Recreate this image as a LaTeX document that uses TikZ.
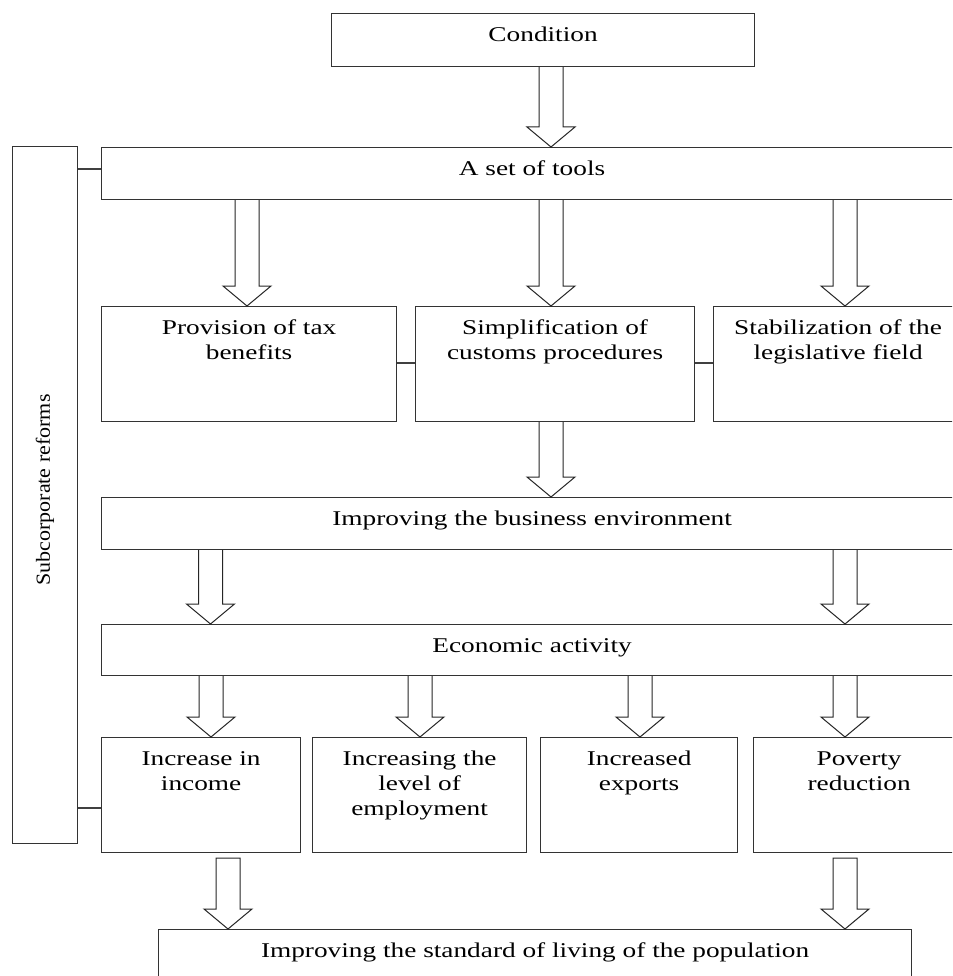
\documentclass[tikz,border=0pt]{standalone}
\usepackage{fontspec}
\setmainfont{Liberation Serif}[FakeStretch=1.3]
\newfontfamily\vertfont{Liberation Serif}[FakeStretch=1.1]
\usetikzlibrary{calc}
\newcommand\bxt[3]{\parbox[t][#2pt][t]{#1pt}{\centering\rule{0pt}{28pt}#3}}
% block arrow, open at the top (starts on the source box border)
\newcommand\barr[3]{%
  \draw[barrow] let \p1=(#2.south), \p2=(#3.north) in
    ({#1pt-12pt},\y1) -- ({#1pt-12pt},{\y2+20pt}) -- ({#1pt-24pt},{\y2+20pt}) --
    (#1pt,\y2) -- ({#1pt+24pt},{\y2+20pt}) -- ({#1pt+12pt},{\y2+20pt}) -- ({#1pt+12pt},\y1);}
% block arrow, closed, starting a few points below the source box
\newcommand\barrc[4]{%
  \draw[barrow] let \p1=(#2.south), \p2=(#3.north) in
    ({#1pt-12pt},{\y1-#4pt}) -- ({#1pt-12pt},{\y2+20pt}) -- ({#1pt-24pt},{\y2+20pt}) --
    (#1pt,\y2) -- ({#1pt+24pt},{\y2+20pt}) -- ({#1pt+12pt},{\y2+20pt}) -- ({#1pt+12pt},{\y1-#4pt}) -- cycle;}
\begin{document}
\begin{tikzpicture}[x=1pt,y=-1pt,
  box/.style={draw=black!80, line width=1.2pt, inner sep=0pt, anchor=north west,
              font=\fontsize{21}{25}\selectfont},
  barrow/.style={draw=black!85, line width=1pt, line join=miter},
  link/.style={draw=black!75, line width=1.2pt}]
\useasboundingbox[fill=white] (0,0) rectangle (952,976);
\clip (0,0) rectangle (952,976);

% boxes
\node[box] (cond) at (331,13) {\bxt{423}{53}{Condition}};
\node[box] (tools) at (101,147) {\bxt{861}{52}{A set of tools}};
\node[box, minimum width=65, minimum height=697] (sub) at (12,146) {};
\node[rotate=90, font=\vertfont\fontsize{20}{24}\selectfont] (subtxt) at (45,490) {Subcorporate reforms};

\node[box] (tax) at (101,306) {\bxt{295}{115}{Provision of tax\\benefits}};
\node[box] (customs) at (415,306) {\bxt{279}{115}{Simplification of\\customs procedures}};
\node[box] (legis) at (713,306) {\bxt{249}{115}{Stabilization of the\\legislative field}};

\node[box] (biz) at (101,497) {\bxt{861}{52}{Improving the business environment}};
\node[box] (econ) at (101,624) {\bxt{861}{51}{Economic activity}};

\node[box] (income) at (101,737) {\bxt{199}{115}{Increase in\\income}};
\node[box] (employ) at (312,737) {\bxt{214}{115}{Increasing the\\level of\\employment}};
\node[box] (exports) at (540,737) {\bxt{197}{115}{Increased\\exports}};
\node[box] (poverty) at (753,737) {\bxt{211}{115}{Poverty\\reduction}};

\node[box] (living) at (158,929) {\bxt{753}{60}{Improving the standard of living of the population}};

% plain connectors
\draw[link] (sub.east |- 0,169) -- (tools.west |- 0,169);
\draw[link] (sub.east |- 0,808) -- (income.west |- 0,808);
\draw[link] (tax.east |- 0,363) -- (customs.west |- 0,363);
\draw[link] (customs.east |- 0,363) -- (legis.west |- 0,363);

% block arrows
\barr{551}{cond}{tools}
\barr{247}{tools}{tax}
\barr{551}{tools}{customs}
\barr{845}{tools}{legis}
\barr{551}{customs}{biz}
\barr{210.5}{biz}{econ}
\barr{845}{biz}{econ}
\barr{211}{econ}{income}
\barr{420}{econ}{employ}
\barr{640}{econ}{exports}
\barr{845}{econ}{poverty}
\barrc{228}{income}{living}{5}
\barrc{845}{poverty}{living}{5}
\end{tikzpicture}
\end{document}
